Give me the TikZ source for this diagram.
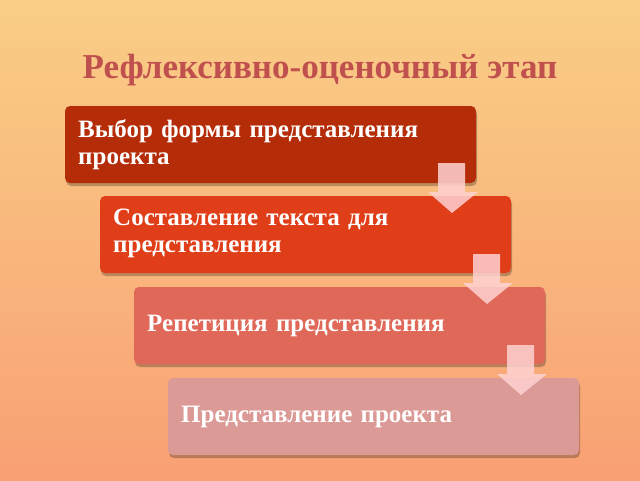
\documentclass[tikz,border=0pt]{standalone}
\usepackage{fontspec}
\setmainfont{Liberation Serif}
\begin{document}
\begin{tikzpicture}[x=1pt,y=-1pt,
  stepbox/.style={rounded corners=5pt,text=white,font=\bfseries\fontsize{25}{27}\selectfont,align=left,anchor=north west,text width=#1,inner sep=0pt},
  downarrow/.style={fill=pink!70!white,fill opacity=0.85,draw=none}]
\shade[top color={rgb,255:red,249;green,206;blue,134},bottom color={rgb,255:red,249;green,160;blue,116}] (0,0) rectangle (640,480);
\useasboundingbox (0,0) rectangle (640,480);
\node (title) at (320,70) {\bfseries\fontsize{35}{40}\selectfont\color[RGB]{192,80,77}Рефлексивно-оценочный этап};
\definecolor{c1}{RGB}{181,44,8}
\definecolor{c2}{RGB}{224,62,24}
\definecolor{c3}{RGB}{223,104,88}
\definecolor{c4}{RGB}{220,154,150}
\foreach \x/\y/\c/\n in {65/106/c1/b1,100/196/c2/b2,134/287/c3/b3,168/378/c4/b4}{
  \fill[black,opacity=0.25,rounded corners=5pt] (\x+1,\y+3) rectangle ++(411,77);
  \fill[\c,rounded corners=5pt] (\x,\y) rectangle ++(411,77);
}
\node[stepbox=400pt] (t1) at (78,119) {Выбор формы представления\\проекта};
\node[stepbox=400pt] (t2) at (113,209) {Составление текста для\\представления};
\node[stepbox=400pt,anchor=west] (t3) at (147,326) {Репетиция представления};
\node[stepbox=400pt,anchor=west] (t4) at (181,417) {Представление проекта};
\foreach \x/\y in {452/163,487/254,521/345}{
  \fill[downarrow] (\x-14,\y) -- (\x+13,\y) -- (\x+13,\y+29) -- (\x+26,\y+29) -- (\x,\y+50) -- (\x-24,\y+29) -- (\x-14,\y+29) -- cycle;
}
\end{tikzpicture}
\end{document}
